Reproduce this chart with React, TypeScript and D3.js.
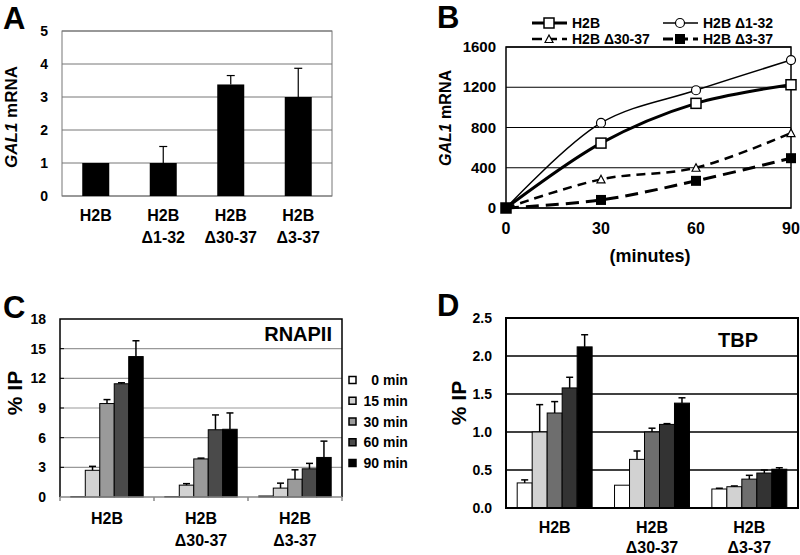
import React from 'react';
import * as d3 from 'd3';

const FONT = "'Liberation Sans', Arial, Helvetica, sans-serif";

// panel A
const catsA = [['H2B'], ['H2B', 'Δ1-32'], ['H2B', 'Δ30-37'], ['H2B', 'Δ3-37']];
const valuesA = [1.0, 1.0, 3.38, 3.0];
const errA = [0, 0.5, 0.27, 0.87];
const ticksA = [0, 1, 2, 3, 4, 5];

// panel B
const minutes = [0, 30, 60, 90];
const ticksB = [0, 400, 800, 1200, 1600];
const gal1H2B = [0, 645, 1040, 1225];
const gal1D1_32 = [0, 845, 1170, 1470];
const gal1D30_37 = [0, 285, 400, 745];
const gal1D3_37 = [0, 80, 270, 495];

// panels C and D
const groups = [['H2B'], ['H2B', 'Δ30-37'], ['H2B', 'Δ3-37']];
const times = [0, 15, 30, 60, 90];

const ticksC = [0, 3, 6, 9, 12, 15, 18];
const rnapiiH2B = [0.05, 2.7, 9.45, 11.45, 14.2];
const rnapiiH2BErr = [0, 0.4, 0.4, 0.1, 1.6];
const rnapiiD30 = [0.05, 1.2, 3.85, 6.8, 6.85];
const rnapiiD30Err = [0, 0.15, 0.08, 1.5, 1.65];
const rnapiiD3 = [0.1, 0.9, 1.8, 2.85, 4.0];
const rnapiiD3Err = [0, 0.5, 0.95, 0.55, 1.65];

const ticksD = [0, 0.5, 1.0, 1.5, 2.0, 2.5];
const tbpH2B = [0.33, 1.0, 1.25, 1.58, 2.12];
const tbpH2BErr = [0.04, 0.36, 0.15, 0.14, 0.16];
const tbpD30 = [0.3, 0.64, 1.0, 1.1, 1.38];
const tbpD30Err = [0, 0.11, 0.05, 0.01, 0.07];
const tbpD3 = [0.25, 0.28, 0.38, 0.46, 0.51];
const tbpD3Err = [0.01, 0.01, 0.05, 0.04, 0.02];

const shadesC = ['#ffffff', '#d2d2d2', '#9a9a9a', '#4a4a4a', '#000000'];
const shadesD = ['#ffffff', '#d2d2d2', '#6e6e6e', '#333333', '#000000'];

function PanelLetter({ x, y, t }) {
  return <text x={x} y={y} fontSize={31} fontWeight="bold">{t}</text>;
}

function CatLabel({ x, y, lines, size = 16, gap = 22 }) {
  return (
    <text x={x} y={y} textAnchor="middle" fontSize={size} fontWeight="bold">
      {lines.map((l, i) => (
        <tspan key={i} x={x} dy={i === 0 ? 0 : gap}>{l}</tspan>
      ))}
    </text>
  );
}

function Gal1Label({ x, y, size }) {
  return (
    <text transform={`translate(${x},${y}) rotate(-90)`} textAnchor="middle" fontSize={size} fontWeight="bold">
      <tspan fontStyle="italic">GAL1</tspan> mRNA
    </text>
  );
}

function PanelA() {
  const x = d3.scaleBand().domain(catsA.map((_, i) => String(i))).range([62, 332]).paddingInner(0.6).paddingOuter(0.3);
  const y = d3.scaleLinear().domain([0, 5]).range([196, 31]);
  return (
    <g>
      <PanelLetter x={3} y={29} t="A" />
      {ticksA.map(t => (
        <g key={t}>
          <line x1={62} x2={332} y1={y(t)} y2={y(t)} stroke="#777" strokeWidth={1} />
          <text x={48} y={y(t) + 5} textAnchor="end" fontSize={14} fontWeight="bold">{t}</text>
        </g>
      ))}
      <rect x={62} y={y(5)} width={270} height={y(0) - y(5)} fill="none" stroke="#777" strokeWidth={1} />
      {valuesA.map((v, i) => {
        const bx = x(String(i));
        const cx = bx + x.bandwidth() / 2;
        return (
          <g key={i}>
            <rect x={bx} y={y(v)} width={x.bandwidth()} height={y(0) - y(v)} fill="#000" />
            {errA[i] > 0 && (
              <g stroke="#000" strokeWidth={1.2}>
                <line x1={cx} x2={cx} y1={y(v)} y2={y(v + errA[i])} />
                <line x1={cx - 4} x2={cx + 4} y1={y(v + errA[i])} y2={y(v + errA[i])} />
              </g>
            )}
            <CatLabel x={cx} y={221} lines={catsA[i]} />
          </g>
        );
      })}
      <Gal1Label x={17} y={117} size={17} />
    </g>
  );
}

function PanelB() {
  const x = d3.scaleLinear().domain([0, 90]).range([506, 791]);
  const y = d3.scaleLinear().domain([0, 1600]).range([208, 47]);
  const line = d3.line().x((d, i) => x(minutes[i])).y(d => y(d)).curve(d3.curveCatmullRom.alpha(0.5));
  const series = [
    { name: 'H2B', data: gal1H2B, width: 3, dash: null, marker: 'square', lx: 532, ly: 23 },
    { name: 'H2B Δ1-32', data: gal1D1_32, width: 1.5, dash: null, marker: 'circle', lx: 663, ly: 23 },
    { name: 'H2B Δ30-37', data: gal1D30_37, width: 2.5, dash: '9,6', marker: 'triangle', lx: 532, ly: 39 },
    { name: 'H2B Δ3-37', data: gal1D3_37, width: 3, dash: '13,7', marker: 'filled', lx: 663, ly: 39 },
  ];
  const marker = (kind, cx, cy, key) => {
    if (kind === 'square') return <rect key={key} x={cx - 5} y={cy - 5} width={10} height={10} fill="#fff" stroke="#000" strokeWidth={1.5} />;
    if (kind === 'circle') return <circle key={key} cx={cx} cy={cy} r={4.5} fill="#fff" stroke="#000" strokeWidth={1.2} />;
    if (kind === 'triangle') return <path key={key} d={`M${cx - 4},${cy + 3.5}L${cx},${cy - 4}L${cx + 4},${cy + 3.5}Z`} fill="#fff" stroke="#000" strokeWidth={1.2} />;
    return <rect key={key} x={cx - 5} y={cy - 5} width={10} height={10} fill="#000" />;
  };
  return (
    <g>
      <PanelLetter x={437} y={28} t="B" />
      {series.map(s => (
        <g key={'l' + s.name}>
          <line x1={s.lx} x2={s.lx + 35} y1={s.ly} y2={s.ly} stroke="#000" strokeWidth={s.width} strokeDasharray={s.dash ? '10,5' : null} />
          {marker(s.marker, s.lx + 17, s.ly, 'm')}
          <text x={s.lx + 40} y={s.ly + 5} fontSize={14} fontWeight="bold">{s.name}</text>
        </g>
      ))}
      {ticksB.map(t => (
        <g key={t}>
          <line x1={506} x2={791} y1={y(t)} y2={y(t)} stroke="#000" strokeWidth={1.2} />
          <text x={496} y={y(t) + 5} textAnchor="end" fontSize={15} fontWeight="bold">{t}</text>
        </g>
      ))}
      <rect x={506} y={y(1600)} width={285} height={y(0) - y(1600)} fill="none" stroke="#000" strokeWidth={1.5} />
      {minutes.map(m => (
        <text key={m} x={x(m)} y={234} textAnchor="middle" fontSize={16} fontWeight="bold">{m}</text>
      ))}
      <text x={650} y={262} textAnchor="middle" fontSize={18} fontWeight="bold">(minutes)</text>
      <Gal1Label x={451} y={118} size={16} />
      {series.map(s => (
        <g key={s.name}>
          <path d={line(s.data)} fill="none" stroke="#000" strokeWidth={s.width} strokeDasharray={s.dash} />
          {s.data.map((v, i) => marker(s.marker, x(minutes[i]), y(v), i))}
        </g>
      ))}
    </g>
  );
}

function GroupedBars({ x0, x1, y0, y1, max, ticks, fmt, vals, errs, shades, grid, box, tickSize }) {
  const y = d3.scaleLinear().domain([0, max]).range([y0, y1]);
  const gx = d3.scaleBand().domain(groups.map((_, i) => String(i))).range([x0, x1]);
  const inner = gx.bandwidth() * 0.115;
  const bx = d3.scaleBand().domain(times.map(String)).range([inner, gx.bandwidth() - inner]);
  return (
    <g>
      {ticks.map(t => (
        <g key={t}>
          {t > 0 && t < max && <line x1={x0} x2={x1} y1={y(t)} y2={y(t)} stroke={grid.color} strokeWidth={grid.width} />}
          <text x={x0 - 14} y={y(t) + 5} textAnchor="end" fontSize={tickSize} fontWeight="bold">{fmt(t)}</text>
        </g>
      ))}
      {vals.map((vs, g) => (
        <g key={g} transform={`translate(${gx(String(g))},0)`}>
          {vs.map((v, i) => {
            const left = bx(String(times[i]));
            const cx = left + bx.bandwidth() / 2;
            const e = errs[g][i];
            return (
              <g key={i}>
                <rect x={left} y={y(v)} width={bx.bandwidth()} height={y(0) - y(v)} fill={shades[i]} stroke="#000" strokeWidth={1} />
                {e > 0 && (
                  <g stroke="#000" strokeWidth={1.5}>
                    <line x1={cx} x2={cx} y1={y(v)} y2={y(v + e)} />
                    <line x1={cx - 3.5} x2={cx + 3.5} y1={y(v + e)} y2={y(v + e)} />
                  </g>
                )}
              </g>
            );
          })}
        </g>
      ))}
      {box}
    </g>
  );
}

function PanelC() {
  const gx = d3.scaleBand().domain(groups.map((_, i) => String(i))).range([60, 342]);
  const y = d3.scaleLinear().domain([0, 18]).range([497, 319]);
  const ly = d3.scalePoint().domain(times.map(String)).range([380, 463]);
  const box = (
    <g>
      <path d={`M60,${y(0)}V${y(18)}H342V${y(0)}`} fill="none" stroke="#000" strokeWidth={1.5} />
      <line x1={60} x2={342} y1={y(0)} y2={y(0)} stroke="#888" strokeWidth={1.5} />
      {[60, 342, ...groups.slice(1).map((_, i) => gx(String(i + 1)))].map((t, i) => (
        <line key={i} x1={t} x2={t} y1={y(0)} y2={y(0) + 4} stroke="#888" strokeWidth={1.5} />
      ))}
      {ticksC.slice(1, -1).map(t => (
        <line key={t} x1={60} x2={64} y1={y(t)} y2={y(t)} stroke="#000" strokeWidth={1} />
      ))}
    </g>
  );
  return (
    <g>
      <PanelLetter x={3} y={318} t="C" />
      <GroupedBars x0={60} x1={342} y0={497} y1={319} max={18} ticks={ticksC} fmt={t => String(t)}
        vals={[rnapiiH2B, rnapiiD30, rnapiiD3]} errs={[rnapiiH2BErr, rnapiiD30Err, rnapiiD3Err]}
        shades={shadesC} grid={{ color: '#999', width: 1.2 }} box={box} tickSize={14} />
      <text x={332} y={341} textAnchor="end" fontSize={20} fontWeight="bold">RNAPII</text>
      <text transform={`translate(22,393) rotate(-90)`} textAnchor="middle" fontSize={21} fontWeight="bold">% IP</text>
      {groups.map((g, i) => (
        <CatLabel key={i} x={gx(String(i)) + gx.bandwidth() / 2} y={524} lines={g} />
      ))}
      {times.map((t, i) => (
        <g key={t}>
          <rect x={349} y={ly(String(t)) - 3.5} width={7} height={7} fill={shadesC[i]} stroke="#000" strokeWidth={1.5} />
          <text x={379} y={ly(String(t)) + 5} textAnchor="end" fontSize={14} fontWeight="bold">{t}</text>
          <text x={383} y={ly(String(t)) + 5} fontSize={14} fontWeight="bold">min</text>
        </g>
      ))}
    </g>
  );
}

function PanelD() {
  const gx = d3.scaleBand().domain(groups.map((_, i) => String(i))).range([506, 798]);
  const y = d3.scaleLinear().domain([0, 2.5]).range([508, 318]);
  const box = <rect x={506} y={y(2.5)} width={292} height={y(0) - y(2.5)} fill="none" stroke="#000" strokeWidth={2} />;
  return (
    <g>
      <PanelLetter x={437} y={316} t="D" />
      <GroupedBars x0={506} x1={798} y0={508} y1={318} max={2.5} ticks={ticksD} fmt={d3.format('.1f')}
        vals={[tbpH2B, tbpD30, tbpD3]} errs={[tbpH2BErr, tbpD30Err, tbpD3Err]}
        shades={shadesD} grid={{ color: '#000', width: 1.5 }} box={box} tickSize={14} />
      <text x={718} y={347} fontSize={20} fontWeight="bold">TBP</text>
      <text transform={`translate(466,403) rotate(-90)`} textAnchor="middle" fontSize={21} fontWeight="bold">% IP</text>
      {groups.map((g, i) => (
        <CatLabel key={i} x={gx(String(i)) + gx.bandwidth() / 2} y={533} lines={g} gap={20} />
      ))}
    </g>
  );
}

export default function App() {
  return (
    <svg width={800} height={555} style={{ position: 'absolute', left: 0, top: 0, background: '#fff' }} fontFamily={FONT}>
      <rect width={800} height={555} fill="#fff" />
      <PanelA />
      <PanelB />
      <PanelC />
      <PanelD />
    </svg>
  );
}
